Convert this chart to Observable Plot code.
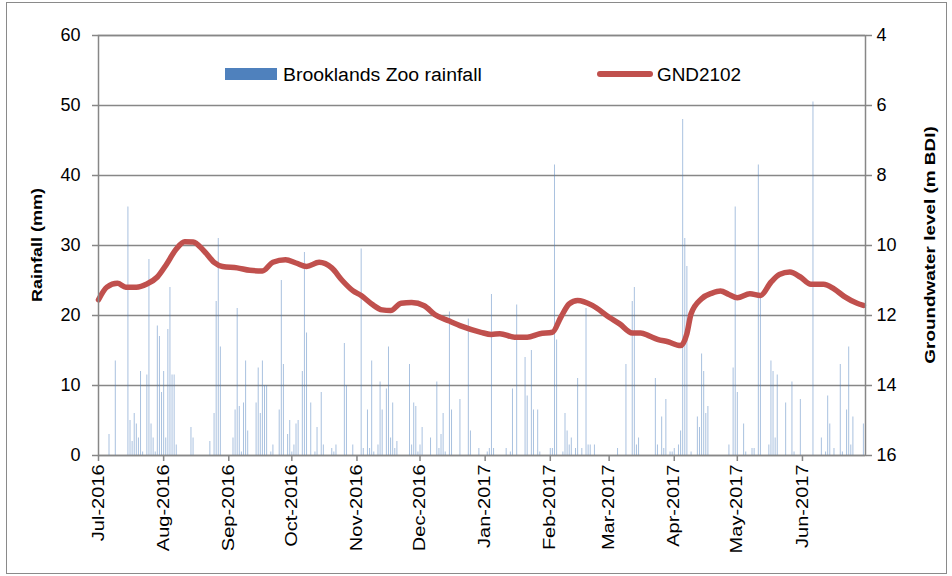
<!DOCTYPE html>
<html>
<head>
<meta charset="utf-8">
<script src="https://cdn.jsdelivr.net/npm/d3@7"></script>
<script src="https://cdn.jsdelivr.net/npm/@observablehq/plot@0.6"></script>
<style>
  body { margin: 0; background: #fff; }
  #wrap { position: relative; width: 952px; height: 576px; overflow: hidden; }
  #border { position: absolute; left: 6px; top: 2px; width: 939px; height: 570px; border: 1px solid #8a8a8a; }
  #wrap svg { position: absolute; left: 0; top: 0; }
</style>
</head>
<body>
<div id="wrap"><div id="border"></div></div>
<script>
// ---- Daily rainfall, Brooklands Zoo (mm) ----
const rainDates = [
  "2016-07-06","2016-07-09","2016-07-15","2016-07-16","2016-07-17","2016-07-18","2016-07-19","2016-07-20","2016-07-21","2016-07-22",
  "2016-07-24","2016-07-25","2016-07-26","2016-07-27","2016-07-28","2016-07-29","2016-07-30","2016-07-31","2016-08-01","2016-08-02",
  "2016-08-03","2016-08-04","2016-08-05","2016-08-06","2016-08-07","2016-08-14","2016-08-15","2016-08-23","2016-08-25","2016-08-26",
  "2016-08-27","2016-08-28","2016-09-03","2016-09-04","2016-09-05","2016-09-06","2016-09-07","2016-09-08","2016-09-09","2016-09-10",
  "2016-09-14","2016-09-15","2016-09-16","2016-09-17","2016-09-18","2016-09-19","2016-09-21","2016-09-22","2016-09-25","2016-09-26",
  "2016-09-27","2016-09-29","2016-09-30","2016-10-01","2016-10-02","2016-10-03","2016-10-04","2016-10-06","2016-10-07","2016-10-08",
  "2016-10-10","2016-10-12","2016-10-13","2016-10-15","2016-10-16","2016-10-20","2016-10-21","2016-10-22","2016-10-26","2016-10-27",
  "2016-10-30","2016-11-03","2016-11-04","2016-11-06","2016-11-07","2016-11-08","2016-11-09","2016-11-11","2016-11-12","2016-11-13",
  "2016-11-15","2016-11-16","2016-11-17","2016-11-18","2016-11-19","2016-11-20","2016-11-26","2016-11-27","2016-11-28","2016-11-29",
  "2016-11-30","2016-12-01","2016-12-02","2016-12-06","2016-12-09","2016-12-10","2016-12-11","2016-12-12","2016-12-13","2016-12-15",
  "2016-12-16","2016-12-20","2016-12-24","2016-12-25","2016-12-29","2017-01-02","2017-01-03","2017-01-04","2017-01-05","2017-01-11",
  "2017-01-13","2017-01-14","2017-01-16","2017-01-20","2017-01-21","2017-01-23","2017-01-24","2017-01-26","2017-01-27","2017-02-01",
  "2017-02-02","2017-02-03","2017-02-04","2017-02-07","2017-02-08","2017-02-09","2017-02-10","2017-02-11","2017-02-13","2017-02-14",
  "2017-02-16","2017-02-18","2017-02-19","2017-02-20","2017-02-22","2017-03-05","2017-03-09","2017-03-12","2017-03-13","2017-03-14",
  "2017-03-15","2017-03-23","2017-03-24","2017-03-26","2017-03-27","2017-03-28","2017-03-30","2017-03-31","2017-04-01","2017-04-03",
  "2017-04-04","2017-04-05","2017-04-06","2017-04-07","2017-04-09","2017-04-12","2017-04-13","2017-04-14","2017-04-15","2017-04-16",
  "2017-04-17","2017-04-27","2017-04-29","2017-04-30","2017-05-01","2017-05-04","2017-05-05","2017-05-08","2017-05-09","2017-05-11",
  "2017-05-12","2017-05-16","2017-05-17","2017-05-18","2017-05-19","2017-05-20","2017-05-24","2017-05-27","2017-05-28","2017-05-31",
  "2017-06-06","2017-06-10","2017-06-12","2017-06-13","2017-06-14","2017-06-16","2017-06-19","2017-06-20","2017-06-22","2017-06-23",
  "2017-06-24","2017-06-25","2017-06-30"
];
const rainMm = [
  3,13.5,35.5,5,2,6,4.5,2.5,12,0.5,
  11.5,28,4.5,2.5,0.5,18.5,17,9,12,2.5,
  18,24,11.5,11.5,1.5,4,2.5,2,6,22,
  31,15.5,2.5,6.5,21,7,0.5,7.5,13.5,3.5,
  7.5,12.5,6,13.5,10,10,0.5,1.5,6.5,25,
  13,3,5,0.5,1.5,4.5,5,12,29,17.5,
  7.5,0.5,4,9,1.5,1,0.5,1.5,16,10,
  1.5,29.5,1,6.5,1,13.5,0.5,1.5,10.5,6.5,
  9.5,15.5,2.5,7.5,1,2,13,1.5,7.5,7,
  0.5,1.5,4,2.5,10.5,1,3,6,0.5,20.5,
  6.5,8,19.5,3.5,1,0.5,1,23,1,1,
  0.5,9.5,21.5,14,8.5,15,6.5,6.5,0.5,1,
  1,41.5,16.5,0.5,6,3.5,1.5,2.5,1,11,
  1,21,1.5,1.5,1.5,1,13,22,24,1.5,
  2.5,11,1.5,5.5,1,8,0.5,0.5,1,1.5,
  3.5,48,31,27,0.5,5.5,4,14.5,12,6,
  7,1.5,12.5,35.5,9,4.5,0.5,1,1,41.5,
  22.5,1.5,13.5,12,2.5,11.5,7.5,10.5,0.5,8,
  50.5,2.5,0.5,8.5,4.5,1,13,0.5,6.5,15.5,
  1.5,5.5,4.5
];

// ---- Groundwater level GND2102 (m below datum) ----
const gwDates = [
  "2016-07-01","2016-07-05","2016-07-10","2016-07-14","2016-07-19","2016-07-24","2016-07-29","2016-08-02","2016-08-07","2016-08-11",
  "2016-08-15","2016-08-20","2016-08-25","2016-08-29","2016-09-05","2016-09-11","2016-09-17","2016-09-22","2016-09-28","2016-10-03",
  "2016-10-08","2016-10-14","2016-10-20","2016-10-25","2016-10-30","2016-11-03","2016-11-08","2016-11-13","2016-11-17","2016-11-22",
  "2016-11-27","2016-12-03","2016-12-08","2016-12-15","2016-12-21","2016-12-30","2017-01-04","2017-01-08","2017-01-15","2017-01-21",
  "2017-01-27","2017-02-02","2017-02-06","2017-02-10","2017-02-14","2017-02-21","2017-03-01","2017-03-06","2017-03-12","2017-03-16",
  "2017-03-20","2017-03-24","2017-03-29","2017-04-04","2017-04-07","2017-04-09","2017-04-14","2017-04-19","2017-04-23","2017-04-27",
  "2017-05-01","2017-05-07","2017-05-12","2017-05-17","2017-05-21","2017-05-26","2017-05-31","2017-06-05","2017-06-11","2017-06-16",
  "2017-06-21","2017-06-27","2017-06-30"
];
const gwLevel = [
  11.55,11.19,11.08,11.19,11.19,11.10,10.90,10.57,10.10,9.89,
  9.90,10.14,10.48,10.60,10.64,10.71,10.73,10.48,10.41,10.50,
  10.60,10.48,10.64,11.00,11.29,11.43,11.67,11.84,11.86,11.65,
  11.63,11.72,11.97,12.16,12.31,12.48,12.54,12.52,12.62,12.62,
  12.52,12.48,12.05,11.67,11.57,11.71,12.05,12.24,12.50,12.50,
  12.58,12.68,12.75,12.86,12.52,11.95,11.52,11.36,11.30,11.40,
  11.49,11.38,11.43,11.05,10.83,10.76,10.90,11.11,11.11,11.24,
  11.46,11.65,11.71
];

const rainTicks = [0, 10, 20, 30, 40, 50, 60];
const monthTicks = [
  "2016-07-01","2016-08-01","2016-09-01","2016-10-01","2016-11-01","2016-12-01",
  "2017-01-01","2017-02-01","2017-03-01","2017-04-01","2017-05-01","2017-06-01"
];
const seriesNames = ["Brooklands Zoo rainfall", "GND2102"];
const axisTitles = ["Rainfall (mm)", "Groundwater level (m BDI)"];

const rain = rainDates.map((d, i) => ({date: d3.isoParse(d), mm: rainMm[i]}));
const gw = gwDates.map((d, i) => ({date: d3.isoParse(d), level: gwLevel[i]}));
const months = monthTicks.map(d3.isoParse);
// Right axis: groundwater 4 (top) .. 16 (bottom) shares the 0..60 rainfall scale
const gwToRain = v => (16 - v) * 5;
const rainToGw = r => 16 - r / 5;

const grey = "#878787";
const chart = Plot.plot({
  width: 952,
  height: 576,
  marginLeft: 98,
  marginRight: 87,
  marginTop: 35,
  marginBottom: 121,
  style: {fontFamily: "'Liberation Sans', Arial, sans-serif", fontSize: "18px", color: "#000", background: "transparent", overflow: "visible"},
  x: {type: "utc", domain: [d3.isoParse("2016-07-01"), d3.isoParse("2017-07-01")]},
  y: {domain: [0, 60]},
  marks: [
    Plot.gridY(rainTicks, {stroke: grey, strokeOpacity: 1, strokeWidth: 1.5}),
    Plot.ruleX(rain, {x: "date", y1: 0, y2: "mm", stroke: "#4f81bd", strokeWidth: 0.9, strokeOpacity: 0.55}),
    Plot.line(gw, {x: "date", y: d => gwToRain(d.level), stroke: "#c0504d", strokeWidth: 5.5, curve: "monotone-x", strokeLinecap: "round", strokeLinejoin: "round"}),
    Plot.frame({stroke: grey, strokeWidth: 1.5}),
    Plot.axisY(rainTicks, {anchor: "left", tickSize: 6, tickPadding: 12, stroke: grey, strokeWidth: 1.5, fill: "#000", fontSize: 18, label: null}),
    Plot.axisY(rainTicks, {anchor: "right", tickSize: 6, tickPadding: 5, stroke: grey, strokeWidth: 1.5, fill: "#000", fontSize: 18, tickFormat: rainToGw, label: null}),
    Plot.axisX(months, {anchor: "bottom", tickRotate: -90, tickSize: 6, tickPadding: 3, stroke: grey, strokeWidth: 1.5, fill: "#000", fontSize: 16, tickFormat: d3.utcFormat("%b-%Y"), label: null})
  ]
});
document.getElementById("wrap").appendChild(chart);

const svg = d3.select(chart);
// stretch text along its run to mimic the original's wide lettering
function stretch(sel, k) {
  sel.each(function() {
    const L = this.getComputedTextLength();
    if (L > 0) { this.setAttribute("textLength", (L * k).toFixed(1)); this.setAttribute("lengthAdjust", "spacingAndGlyphs"); }
  });
}
stretch(svg.selectAll("g[aria-label='x-axis tick label'] text"), 1.25);

const font = "'Liberation Sans', Arial, sans-serif";
// Axis titles
svg.append("text").text(axisTitles[0])
  .attr("transform", "translate(42,245) rotate(-90)")
  .attr("text-anchor", "middle").attr("font-family", font).attr("font-size", 15).attr("font-weight", "bold")
  .call(stretch, 1.2);
svg.append("text").text(axisTitles[1])
  .attr("transform", "translate(935,245) rotate(-90)")
  .attr("text-anchor", "middle").attr("font-family", font).attr("font-size", 15).attr("font-weight", "bold")
  .call(stretch, 1.26);

// Legend
const lg = svg.append("g").attr("font-family", font).attr("font-size", 18).attr("text-anchor", "start");
lg.append("rect").attr("x", 225).attr("y", 68).attr("width", 52).attr("height", 12).attr("fill", "#4f81bd");
lg.append("text").attr("x", 283).attr("y", 81).attr("text-anchor", "start").text(seriesNames[0]).call(stretch, 1.08);
lg.append("line").attr("x1", 600).attr("x2", 650).attr("y1", 74).attr("y2", 74)
  .attr("stroke", "#c0504d").attr("stroke-width", 6).attr("stroke-linecap", "round");
lg.append("text").attr("x", 657).attr("y", 81).attr("text-anchor", "start").text(seriesNames[1]).call(stretch, 1.05);
</script>
</body>
</html>
